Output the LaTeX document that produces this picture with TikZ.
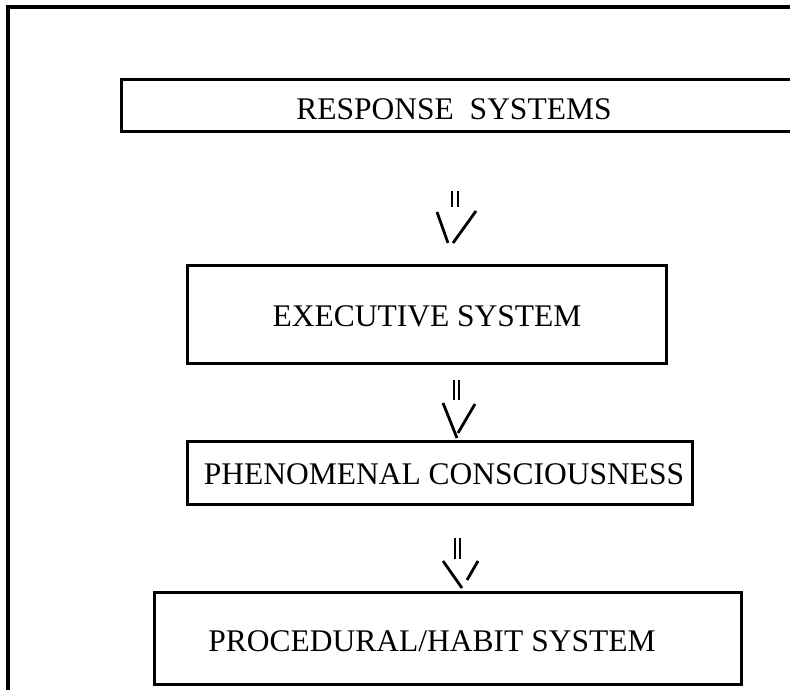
\documentclass[tikz,border=0pt]{standalone}
\usepackage{fontspec}
\setmainfont{Liberation Serif}
\begin{document}
\begin{tikzpicture}[x=1pt,y=-1pt,
  frame/.style={line width=4.5pt},
  box/.style={draw,line width=3pt},
  lbl/.style={font=\fontsize{31.5}{36}\selectfont, inner sep=0pt, anchor=base},
  vstroke/.style={line width=2.8pt},
  bar/.style={line width=1.3pt}]
\useasboundingbox (0,0) rectangle (790,689);
% outer frame (continues past the page)
\coordinate (fbl) at (8,950);
\coordinate (ftl) at (8,7);
\coordinate (ftr) at (950,7);
\draw[frame] (fbl) -- (ftl) -- (ftr);
% boxes
\draw[box] (121,79) coordinate (resp) rectangle (950,131);
\draw[box] (187,265) coordinate (exec) rectangle (666,363);
\draw[box] (187,441) coordinate (phen) rectangle (692,504);
\draw[box] (154,592) coordinate (proc) rectangle (741,684);
% labels
\node[lbl] (tresp) at (454,119) {RESPONSE\ \ SYSTEMS};
\node[lbl] (texec) at (427,326) {EXECUTIVE SYSTEM};
\node[lbl] (tphen) at (444,484) {PHENOMENAL CONSCIOUSNESS};
\node[lbl] (tproc) at (432,651) {PROCEDURAL/HABIT SYSTEM};
% arrow 1
\draw[bar] (452,191) -- (452,207);
\draw[bar] (458,191) -- (458,207);
\draw[vstroke] (437,212) -- (448,243);
\draw[vstroke] (476,211) -- (453,243);
% arrow 2
\draw[bar] (454,380) -- (454,400);
\draw[bar] (459,380) -- (459,400);
\draw[vstroke] (443,403) -- (457,438);
\draw[vstroke] (475,404) -- (458,433);
% arrow 3
\draw[bar] (455,538) -- (455,559);
\draw[bar] (460,538) -- (460,559);
\draw[vstroke] (443,561) -- (462,588);
\draw[vstroke] (478,561) -- (467,580);
\end{tikzpicture}
\end{document}
